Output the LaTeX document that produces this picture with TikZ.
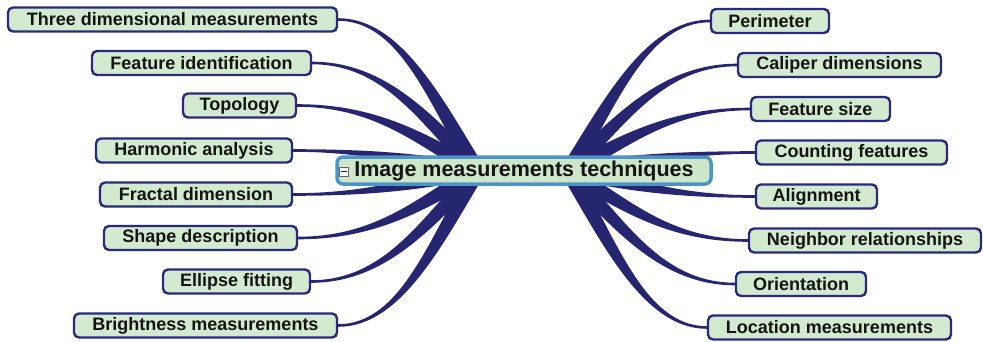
\documentclass[tikz,border=0pt]{standalone}
\usepackage{fontspec}
\setmainfont{Liberation Sans}
\usetikzlibrary{calc,backgrounds}
\definecolor{navy}{RGB}{38,38,112}
\definecolor{leafborder}{RGB}{42,42,122}
\definecolor{leaffill}{RGB}{211,234,208}
\definecolor{centerborder}{RGB}{78,148,198}
\definecolor{centerfill}{RGB}{206,231,202}
\definecolor{textc}{RGB}{20,20,20}
\newcommand{\mmbw}{7.5}
\newcommand{\mmbh}{1.3}
\newcommand{\mmbranch}[3]{%
  \fill[branch] let \p1=(#1), \p2=(#2),
     \n1={\x2-\x1}, \n2={\y1-\y2},
     \n3={#3*0.45*\n2}, \n4={0.3*abs(\n1)},
     \n5={max(veclen(\n3,\n4),0.01)},
     \n6={\mmbw*\n3/\n5}, \n7={\mmbw*\n4/\n5} in
     (\x1,{\y1+\mmbh}) .. controls ({\x1+0.45*\n1},{\y1+\mmbh}) and ({\x2-0.3*\n1+\n6},{\y2+0.45*\n2+\n7}) .. ({\x2+\n6},{\y2+\n7})
     -- ({\x2-\n6},{\y2-\n7}) .. controls ({\x2-0.3*\n1-\n6},{\y2+0.45*\n2-\n7}) and ({\x1+0.45*\n1},{\y1-\mmbh}) .. (\x1,{\y1-\mmbh}) -- cycle;}
\begin{document}
\begin{tikzpicture}[x=1pt,y=1pt,
  leaf/.style={draw=leafborder, line width=2.4pt, fill=leaffill, rounded corners=5pt,
    minimum height=24pt, inner sep=0pt, text=textc,
    font=\fontsize{18}{18}\selectfont\bfseries},
  centre/.style={draw=centerborder, line width=3.5pt, fill=centerfill, rounded corners=6pt,
    minimum width=374pt, minimum height=27pt, inner sep=0pt, text=textc,
    font=\fontsize{21.5}{21.5}\selectfont\bfseries},
  branch/.style={fill=navy},
  togglebox/.style={draw=black!60, fill=white, line width=0.7pt, minimum width=9.5pt, minimum height=9pt, inner sep=0pt},
  toggleline/.style={draw=black!85, line width=1pt}]
\useasboundingbox (0,0) rectangle (983,-341);

% centre
\node[centre] (C) at (524,-170.5) {Image measurements techniques\hspace{9pt}};
\node[togglebox] (mb) at (344,-171.5) {};
\draw[toggleline] ($(mb.center)+(-2.8,0)$) -- ($(mb.center)+(2.8,0)$);
\coordinate (cl) at (478,-171);
\coordinate (cr) at (568,-171);

% left leaves
\node[leaf, minimum width=329pt] (L1) at (172.5,-19.5) {Three dimensional measurements};
\node[leaf, minimum width=219pt] (L2) at (201.5,-63) {Feature identification};
\node[leaf, minimum width=113pt] (L3) at (239.5,-105.5) {Topology};
\node[leaf, minimum width=196pt] (L4) at (194,-150.5) {Harmonic analysis};
\node[leaf, minimum width=192pt] (L5) at (196,-194.5) {Fractal dimension};
\node[leaf, minimum width=193pt] (L6) at (200.5,-238) {Shape description};
\node[leaf, minimum width=147pt] (L7) at (236.5,-281.5) {Ellipse fitting};
\node[leaf, minimum width=263pt] (L8) at (205.5,-325.5) {Brightness measurements};

% right leaves
\node[leaf, minimum width=118pt] (R1) at (770,-21) {Perimeter};
\node[leaf, minimum width=203pt] (R2) at (839.5,-65) {Caliper dimensions};
\node[leaf, minimum width=139pt] (R3) at (820.5,-109) {Feature size};
\node[leaf, minimum width=191pt] (R4) at (851.5,-152.5) {Counting features};
\node[leaf, minimum width=121pt] (R5) at (816.5,-196.5) {Alignment};
\node[leaf, minimum width=232pt] (R6) at (865,-240.5) {Neighbor relationships};
\node[leaf, minimum width=130pt] (R7) at (801,-284) {Orientation};
\node[leaf, minimum width=243pt] (R8) at (829.5,-327.5) {Location measurements};

\begin{scope}[on background layer]
\foreach \nm in {L1,L2,L3,L4,L5,L6,L7,L8}{\mmbranch{\nm.east}{cl}{1}}
\foreach \nm in {R1,R2,R3,R4,R5,R6,R7,R8}{\mmbranch{\nm.west}{cr}{-1}}
\end{scope}
\end{tikzpicture}
\end{document}
